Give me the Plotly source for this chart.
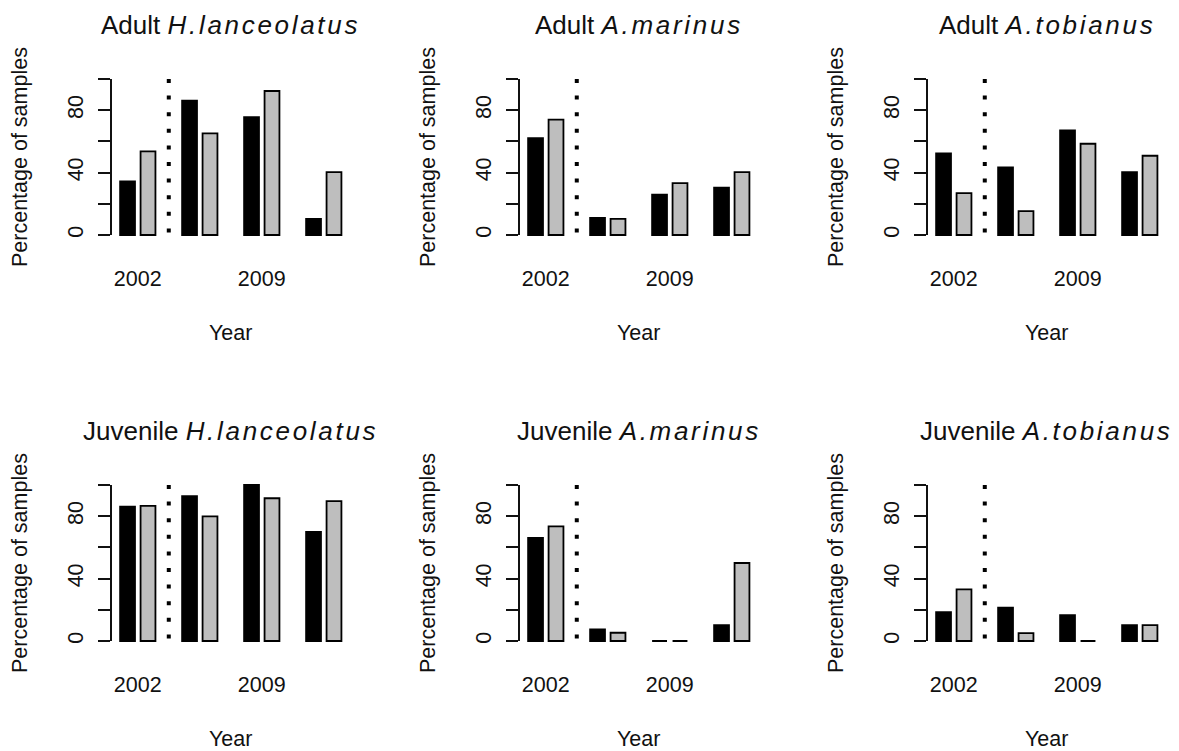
import plotly.graph_objects as go

# The page's default 8px body margin is removed after plotting (post_script),
# so figure pixels coincide with window pixels.
W, H = 1179, 751
PAGE_MARGIN = 0

# ---------------- data ----------------
group_index = [0, 1, 2, 3]
year_labels = ["2002", "", "2009", ""]
y_tick_values = [0, 20, 40, 60, 80, 100]
y_tick_labels = ["0", "", "40", "", "80", ""]

title_stage = ["Adult", "Adult", "Adult", "Juvenile", "Juvenile", "Juvenile"]
title_species = ["H.lanceolatus", "A.marinus", "A.tobianus",
                 "H.lanceolatus", "A.marinus", "A.tobianus"]

adult_hl_black = [34.3, 86.2, 75.5, 10.4]
adult_hl_grey = [53.6, 65.2, 92.3, 40.3]
adult_am_black = [62.1, 11.0, 25.8, 30.3]
adult_am_grey = [73.9, 10.4, 33.3, 40.3]
adult_at_black = [52.3, 43.3, 67.1, 40.3]
adult_at_grey = [26.8, 15.3, 58.5, 50.8]
juv_hl_black = [86.1, 92.8, 100.0, 69.9]
juv_hl_grey = [86.6, 79.9, 91.5, 89.6]
juv_am_black = [66.1, 7.4, 0.0, 10.2]
juv_am_grey = [73.5, 5.3, 0.0, 50.0]
juv_at_black = [18.5, 21.4, 16.6, 10.2]
juv_at_grey = [33.1, 5.0, 0.0, 10.2]

black_series = [adult_hl_black, adult_am_black, adult_at_black,
                juv_hl_black, juv_am_black, juv_at_black]
grey_series = [adult_hl_grey, adult_am_grey, adult_at_grey,
               juv_hl_grey, juv_am_grey, juv_at_grey]

divider_position = 0.5

# ---------------- layout geometry (reference pixels) ----------------
FONT = "Liberation Sans, Arial, sans-serif"
TXT = "#111111"
col_left = [111, 519, 927]
plot_w = 239.3
x_range = [-0.432, 3.428]
y_range = [-4, 104]
row_y0 = [235, 641]     # pixel of value 0
px_per_unit = 1.56
bar_w = 0.24
gap = 0.09


def fx(p):
    return (p - PAGE_MARGIN) / W


def fy(p):
    return 1 - (p - PAGE_MARGIN) / H


fig = go.Figure()
layout = dict(
    width=W, height=H, margin=dict(l=0, r=0, t=0, b=0),
    paper_bgcolor="white", plot_bgcolor="white",
    showlegend=False, barmode="overlay",
    font=dict(family=FONT, size=21.5, color=TXT),
)
annotations = []
shapes = []

for i in range(6):
    r, c = divmod(i, 3)
    n = i + 1
    xa = "x" if n == 1 else f"x{n}"
    ya = "y" if n == 1 else f"y{n}"
    left = col_left[c]
    right = left + plot_w
    top_px = row_y0[r] - y_range[1] * px_per_unit
    bot_px = row_y0[r] - y_range[0] * px_per_unit

    layout[f"xaxis{'' if n == 1 else n}"] = dict(
        domain=[fx(left), fx(right)], range=x_range,
        showline=False, showgrid=False, zeroline=False,
        tickvals=group_index, ticktext=year_labels, ticks="",
        ticklabelstandoff=22, anchor=ya,
        tickfont=dict(size=21.5, color=TXT),
    )
    layout[f"yaxis{'' if n == 1 else n}"] = dict(
        domain=[fy(bot_px), fy(top_px)], range=y_range,
        showline=False, showgrid=False, zeroline=False,
        tickvals=y_tick_values, ticktext=y_tick_labels,
        ticks="outside", ticklen=12, tickwidth=2, tickcolor=TXT,
        tickangle=-90, ticklabelstandoff=6, anchor=xa,
        tickfont=dict(size=21.5, color=TXT),
    )

    fig.add_trace(go.Bar(
        x=group_index, y=black_series[i], width=bar_w, offset=-(bar_w + gap / 2),
        marker=dict(color="#000000", line=dict(color="#000000", width=1.8)),
        xaxis=xa, yaxis=ya, cliponaxis=False,
    ))
    fig.add_trace(go.Bar(
        x=group_index, y=grey_series[i], width=bar_w, offset=gap / 2,
        marker=dict(color="#BEBEBE", line=dict(color="#000000", width=1.8)),
        xaxis=xa, yaxis=ya, cliponaxis=False,
    ))

    # y axis line from first to last tick (R style)
    shapes.append(dict(type="line", xref=f"{xa} domain", yref=ya,
                       x0=0, x1=0, y0=y_tick_values[0], y1=y_tick_values[-1],
                       line=dict(color=TXT, width=2)))
    # dotted divider
    shapes.append(dict(type="line", xref=xa, yref=ya,
                       x0=divider_position, x1=divider_position, y0=100, y1=0,
                       line=dict(color="#000000", width=4, dash="4px,12.6px")))

    cx = (left + right) / 2
    title_y = [25, 431][r]
    title = (f"{title_stage[i]} <i><span style='letter-spacing:2.7px'>"
             f"{title_species[i]}</span></i>")
    annotations.append(dict(text=title, x=fx(cx), y=fy(title_y),
                            xref="paper", yref="paper", showarrow=False,
                            xanchor="center", yanchor="middle",
                            font=dict(size=26, family=FONT, color=TXT)))
    year_y = [333, 739][r]
    annotations.append(dict(text="Year", x=fx(cx), y=fy(year_y),
                            xref="paper", yref="paper", showarrow=False,
                            xanchor="center", yanchor="middle",
                            font=dict(size=21.5, family=FONT, color=TXT)))
    ymid = (top_px + bot_px) / 2
    annotations.append(dict(text="Percentage of samples", x=fx(left - 91),
                            y=fy(ymid), xref="paper", yref="paper",
                            showarrow=False, textangle=-90,
                            xanchor="center", yanchor="middle",
                            font=dict(size=21.5, family=FONT, color=TXT)))

layout["annotations"] = annotations
layout["shapes"] = shapes
fig.update_layout(**layout)
fig.write_html(
    "out.html",
    config={"displayModeBar": False, "staticPlot": True},
    post_script="document.body.style.margin='0px';"
                "document.body.style.overflow='hidden';",
)
